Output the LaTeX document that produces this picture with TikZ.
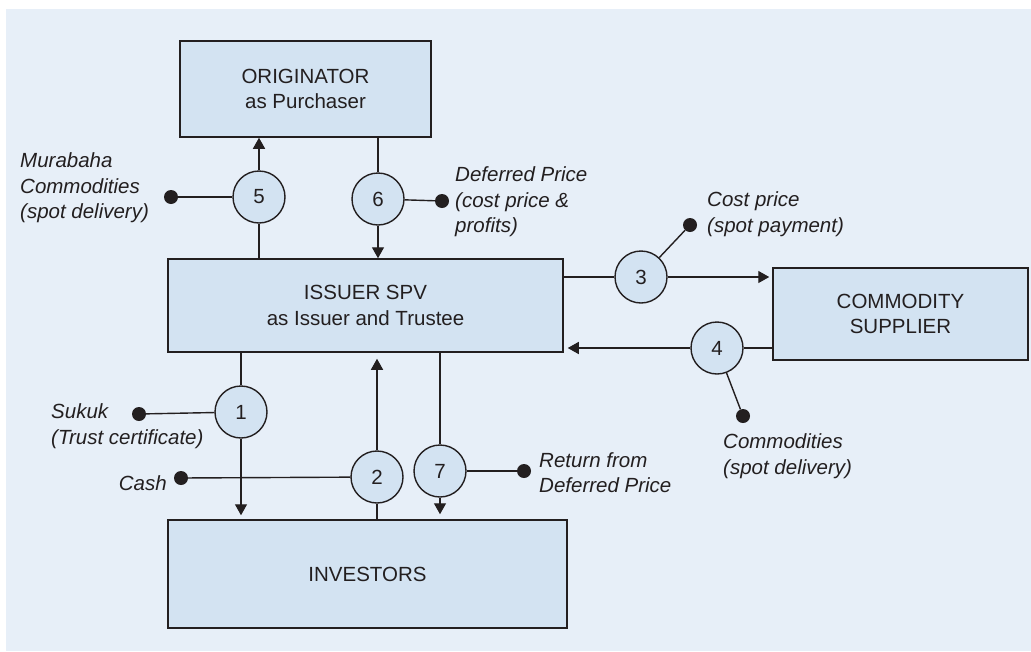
\documentclass[tikz,border=0pt]{standalone}
\usepackage{fontspec}
\setmainfont{Liberation Sans}
\usetikzlibrary{arrows.meta}
\definecolor{panel}{HTML}{E7EFF8}
\definecolor{boxfill}{HTML}{D3E3F2}
\definecolor{ink}{HTML}{231F20}
\begin{document}
\begin{tikzpicture}[x=1pt,y=-1pt,
  every node/.style={font=\fontsize{20.5}{25.5}\selectfont, text=ink},
  party/.style={draw=ink, line width=1.5pt, fill=boxfill, align=center, inner sep=0pt},
  stepno/.style={circle, draw=ink, line width=1.4pt, fill=boxfill, minimum size=52pt, inner sep=0pt},
  tag/.style={circle, fill=ink, minimum size=14pt, inner sep=0pt},
  note/.style={font=\fontsize{20.5}{25.5}\selectfont\itshape, align=left, inner sep=0pt},
  link/.style={draw=ink, line width=1.4pt},
  flow/.style={link, -{Triangle[width=12pt,length=11pt]}},
]
\useasboundingbox (0,0) rectangle (1031,651);
\fill[panel] (6,9) rectangle (1031,651);

% parties
\node[party, minimum width=251pt, minimum height=96pt] (orig) at (305.5,89) {ORIGINATOR\\as Purchaser};
\node[party, minimum width=395pt, minimum height=93pt] (issuer) at (365.5,305.5) {ISSUER SPV\\as Issuer and Trustee};
\node[party, minimum width=255pt, minimum height=92pt] (supplier) at (900.5,314) {COMMODITY\\SUPPLIER};
\node[party, minimum width=399pt, minimum height=108pt] (investors) at (367.5,574) {INVESTORS};

% numbered steps
\node[stepno] (c1) at (241,412) {1};
\node[stepno] (c2) at (377,477) {2};
\node[stepno] (c3) at (641,277) {3};
\node[stepno] (c4) at (717,348) {4};
\node[stepno] (c5) at (259,197) {5};
\node[stepno] (c6) at (378,199) {6};
\node[stepno] (c7) at (440,471) {7};

% label markers
\node[tag] (d1) at (139,414) {};
\node[tag] (d2) at (181,478) {};
\node[tag] (d3) at (690,225) {};
\node[tag] (d4) at (743,416) {};
\node[tag] (d5) at (171,197) {};
\node[tag] (d6) at (442,201) {};
\node[tag] (d7) at (524,471) {};

% labels
\node[note, anchor=west] (l5) at (20,188) {Murabaha\\Commodities\\(spot delivery)};
\node[note, anchor=west] (l6) at (455,202) {Deferred Price\\(cost price \&\\profits)};
\node[note, anchor=west] (l3) at (707,214) {Cost price\\(spot payment)};
\node[note, anchor=west] (l4) at (723,456) {Commodities\\(spot delivery)};
\node[note, anchor=west] (l1) at (51,426) {Sukuk\\(Trust certificate)};
\node[note, anchor=east] (l2) at (167,483) {Cash};
\node[note, anchor=west] (l7) at (539,472.5) {Return from\\Deferred Price};

% step 5: commodities to originator
\draw[link] (c5 |- issuer.north) -- (c5);
\draw[flow] (c5) -- (c5 |- orig.south);
% step 6: deferred price to issuer
\draw[link] (c6 |- orig.south) -- (c6);
\draw[flow] (c6) -- (c6 |- issuer.north);
% step 3: cost price to supplier
\draw[link] (c3 -| issuer.east) -- (c3);
\draw[flow, shorten >=3pt] (c3) -- (c3 -| supplier.west);
% step 4: commodities to issuer
\draw[link] (c4 -| supplier.west) -- (c4);
\draw[flow, shorten >=4pt] (c4) -- (c4 -| issuer.east);
% step 1: sukuk to investors
\draw[link] (c1 |- issuer.south) -- (c1);
\draw[flow, shorten >=4pt] (c1) -- (c1 |- investors.north);
% step 2: cash to issuer
\draw[link] (c2 |- investors.north) -- (c2);
\draw[flow, shorten >=6pt] (c2) -- (c2 |- issuer.south);
% step 7: return to investors
\draw[link] (c7 |- issuer.south) -- (c7);
\draw[flow, shorten >=5pt] (c7) -- (c7 |- investors.north);

% marker leaders
\draw[link] (d1) -- (c1);
\draw[link] (d2) -- (c2);
\draw[link] (d3) -- (c3);
\draw[link] (d4) -- (c4);
\draw[link] (d5) -- (c5);
\draw[link] (d6) -- (c6);
\draw[link] (d7) -- (c7);
\end{tikzpicture}
\end{document}
